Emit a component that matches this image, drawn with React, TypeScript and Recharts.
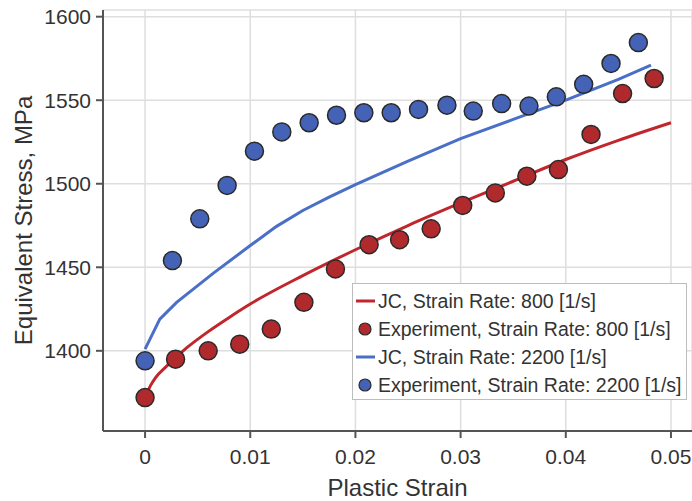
import { CartesianGrid, ComposedChart, Legend, Line, Scatter, XAxis, YAxis } from 'recharts';

// JC model curves
const jc800Strain = [0, 0.0005, 0.001, 0.002, 0.004, 0.006, 0.008, 0.01, 0.015, 0.02, 0.025, 0.03, 0.035, 0.04, 0.045, 0.05];
const jc800Stress = [1372, 1379, 1384, 1390.5, 1402, 1411.5, 1420, 1428, 1445, 1460.5, 1475, 1488.5, 1501.5, 1514.5, 1526, 1536.5];

const jc2200Strain = [0, 0.0014, 0.003, 0.0065, 0.01, 0.0125, 0.015, 0.0175, 0.02, 0.025, 0.03, 0.035, 0.04, 0.045, 0.0481];
const jc2200Stress = [1401, 1419, 1429, 1446.5, 1463, 1474.5, 1484, 1492, 1499.5, 1513.5, 1527, 1538.5, 1550, 1562.5, 1571];

// experiment points
const exp800Strain = [0, 0.0029, 0.006, 0.009, 0.012, 0.0151, 0.0181, 0.0213, 0.0242, 0.0272, 0.0302, 0.0333, 0.0363, 0.0393, 0.0424, 0.0454, 0.0484];
const exp800Stress = [1372, 1395, 1400, 1404, 1413, 1429, 1449, 1463.5, 1466.5, 1473, 1487, 1494.5, 1504.5, 1508.5, 1529.5, 1554, 1563];

const exp2200Strain = [0, 0.0026, 0.0052, 0.0078, 0.0104, 0.013, 0.0156, 0.0182, 0.0208, 0.0234, 0.026, 0.0287, 0.0312, 0.0339, 0.0365, 0.0391, 0.0417, 0.0443, 0.0469];
const exp2200Stress = [1394, 1454, 1479, 1499, 1519.5, 1531, 1536.5, 1541, 1542.5, 1542.5, 1544.5, 1547, 1543.5, 1548, 1546.5, 1552, 1559.5, 1572, 1584.5];

const xTicks = [0, 0.01, 0.02, 0.03, 0.04, 0.05];
const yTicks = [1400, 1450, 1500, 1550, 1600];

const seriesNames = [
  'JC, Strain Rate: 800 [1/s]',
  'Experiment, Strain Rate: 800 [1/s]',
  'JC, Strain Rate: 2200 [1/s]',
  'Experiment, Strain Rate: 2200 [1/s]',
];

const toPoints = (xs: number[], ys: number[]) => xs.map((x, i) => ({ x, y: ys[i] }));

const jc800 = toPoints(jc800Strain, jc800Stress);
const jc2200 = toPoints(jc2200Strain, jc2200Stress);
const exp800 = toPoints(exp800Strain, exp800Stress);
const exp2200 = toPoints(exp2200Strain, exp2200Stress);

const font = '"Liberation Sans", Arial, sans-serif';
const axisColor = '#555555';
const gridColor = '#dedede';
const textColor = '#333333';
const red = '#c0272d';
const redDot = '#b02a2d';
const blue = '#4a6fc6';
const blueDot = '#4563b6';
const dotStroke = '#2a2a2a';

const xDomain = [-0.004, 0.052];
const yDomain = [1352, 1604];

const tickStyle = { fill: textColor, fontSize: 21, fontFamily: font };

function Dot(props: any) {
  return <circle cx={props.cx} cy={props.cy} r={9} fill={props.fill} stroke={dotStroke} strokeWidth={1.5} />;
}

function LegendBox({ payload }: any) {
  const items = [...(payload || [])].sort((a, b) => seriesNames.indexOf(a.value) - seriesNames.indexOf(b.value));
  return (
    <div style={{ background: '#fff', border: '1px solid #bdbdbd', padding: '3px 0 0 3px', width: 330, fontFamily: font }}>
      {items.map((item: any) => (
        <div key={item.value} style={{ display: 'flex', alignItems: 'center', height: 28, fontSize: 19.5, color: textColor }}>
          <svg width={19} height={20} style={{ marginRight: 3 }}>
            {item.type === 'circle' ? (
              <circle cx={9} cy={10} r={6} fill={item.color} stroke={dotStroke} strokeWidth={1.2} />
            ) : (
              <line x1={0} x2={19} y1={10} y2={10} stroke={item.color} strokeWidth={3} />
            )}
          </svg>
          <span style={{ whiteSpace: 'nowrap' }}>{item.value}</span>
        </div>
      ))}
    </div>
  );
}

export default function App() {
  return (
    <div style={{ position: 'absolute', left: 0, top: 0 }}>
      <ComposedChart width={692} height={501} margin={{ top: 10, right: 0, bottom: 0, left: 0 }}>
        <CartesianGrid stroke={gridColor} strokeWidth={1.5} />
        <XAxis
          dataKey="x"
          type="number"
          domain={xDomain}
          allowDataOverflow
          ticks={xTicks}
          height={70}
          stroke={axisColor}
          strokeWidth={2}
          tickSize={7}
          tickMargin={11}
          tick={tickStyle}
          label={{ value: 'Plastic Strain', position: 'insideBottom', offset: 5, fill: textColor, fontSize: 24, fontFamily: font }}
        />
        <XAxis
          xAxisId="top"
          orientation="top"
          type="number"
          domain={xDomain}
          allowDataOverflow
          height={0}
          tick={false}
          tickLine={false}
          stroke={axisColor}
          strokeWidth={2}
        />
        <YAxis
          dataKey="y"
          type="number"
          domain={yDomain}
          allowDataOverflow
          ticks={yTicks}
          width={103}
          stroke={axisColor}
          strokeWidth={2}
          tickSize={7}
          tickMargin={5}
          tick={tickStyle}
          label={{
            value: 'Equivalent Stress, MPa',
            angle: -90,
            position: 'insideLeft',
            offset: 23,
            fill: textColor,
            fontSize: 24,
            fontFamily: font,
            style: { textAnchor: 'middle' },
          }}
        />
        <Line data={jc800} dataKey="y" name={seriesNames[0]} type="monotone" stroke={red} strokeWidth={3} dot={false} legendType="line" isAnimationActive={false} />
        <Line data={jc2200} dataKey="y" name={seriesNames[2]} type="linear" stroke={blue} strokeWidth={3} dot={false} legendType="line" isAnimationActive={false} />
        <Scatter data={exp800} dataKey="y" name={seriesNames[1]} fill={redDot} shape={Dot} legendType="circle" isAnimationActive={false} />
        <Scatter data={exp2200} dataKey="y" name={seriesNames[3]} fill={blueDot} shape={Dot} legendType="circle" isAnimationActive={false} />
        <Legend
          layout="vertical"
          align="center"
          verticalAlign="middle"
          content={<LegendBox />}
          wrapperStyle={{ left: 352, top: 283, width: 336 }}
        />
      </ComposedChart>
    </div>
  );
}
